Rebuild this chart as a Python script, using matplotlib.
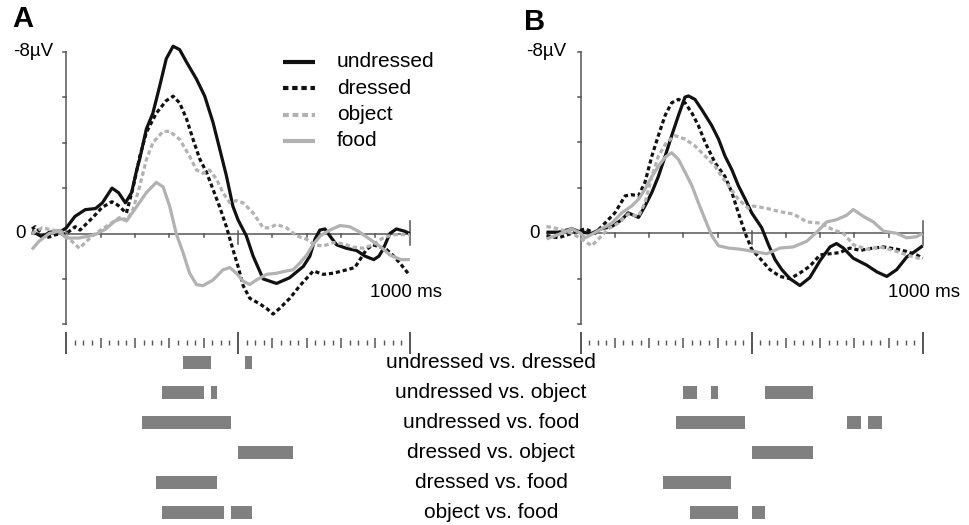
import matplotlib
matplotlib.use('Agg')
import matplotlib.pyplot as plt
from matplotlib.lines import Line2D

plt.rcParams['font.family'] = ['Liberation Sans', 'DejaVu Sans']

# ---------------- data ----------------
series_names = ["undressed", "dressed", "object", "food"]

# Panel A (time in ms, amplitude in microvolts; negative plotted up)
a_undressed_t = [-100, -70, -50, -30, -15, 0, 25, 55, 85, 105, 133, 152, 172, 190, 205, 214, 233, 252, 272, 291, 311, 330, 350, 379, 403, 427, 447, 466, 485, 500, 524, 544, 573, 612, 650, 690, 709, 724, 738, 753, 767, 787, 815, 845, 870, 895, 910, 922, 942, 961, 985, 1000]
a_undressed_v = [-0.1, 0.15, -0.05, -0.1, -0.1, -0.25, -0.75, -1.05, -1.1, -1.35, -2.0, -1.8, -1.35, -1.8, -2.8, -3.3, -4.6, -5.3, -6.5, -7.7, -8.25, -8.1, -7.55, -6.8, -6.05, -4.9, -3.7, -2.55, -1.2, -0.6, 0.1, 1.0, 2.0, 2.2, 1.95, 1.45, 1.0, 0.25, -0.15, -0.2, 0.1, 0.5, 0.65, 0.75, 1.0, 1.15, 1.0, 0.7, 0.0, -0.2, -0.1, 0.0]

a_dressed_t = [-100, -90, -60, -30, 0, 26, 40, 60, 80, 104, 133, 150, 175, 194, 214, 233, 262, 291, 311, 330, 350, 369, 388, 408, 427, 447, 466, 485, 500, 515, 534, 563, 583, 602, 621, 651, 680, 719, 748, 777, 816, 840, 855, 874, 893, 915, 932, 950, 971, 1000]
a_dressed_v = [-0.2, -0.3, 0.2, 0.05, 0.0, -0.3, -0.15, -0.45, -0.75, -1.15, -1.4, -1.25, -0.9, -2.0, -3.4, -4.45, -5.3, -5.85, -6.05, -5.75, -5.05, -4.15, -3.3, -2.7, -1.95, -1.15, -0.3, 0.7, 1.45, 2.3, 2.85, 3.1, 3.3, 3.55, 3.3, 2.85, 2.3, 1.65, 1.8, 1.75, 1.6, 1.5, 1.15, 0.7, 0.5, 0.6, 0.7, 0.95, 1.3, 1.85]

a_object_t = [-100, -70, -40, -15, 0, 20, 38, 55, 80, 100, 125, 155, 178, 194, 214, 233, 252, 282, 301, 330, 359, 379, 398, 417, 437, 456, 476, 495, 515, 544, 573, 592, 612, 641, 670, 699, 723, 748, 777, 806, 835, 864, 893, 922, 951, 1000]
a_object_v = [0.0, -0.25, -0.15, -0.1, 0.1, 0.4, 0.65, 0.4, 0.05, -0.15, -0.4, -0.7, -0.6, -1.05, -2.1, -3.25, -4.0, -4.5, -4.5, -4.15, -3.4, -2.8, -2.65, -2.8, -2.4, -1.8, -1.35, -1.45, -1.35, -0.9, -0.25, -0.25, -0.4, -0.25, 0.1, 0.25, 0.5, 0.55, 0.4, 0.45, 0.6, 0.65, 0.5, 0.2, 0.05, 0.05]

a_food_t = [-100, -80, -50, -22, 0, 36, 65, 84, 113, 142, 160, 175, 201, 233, 262, 282, 301, 320, 340, 359, 379, 398, 427, 456, 476, 495, 515, 534, 553, 583, 612, 641, 660, 680, 700, 720, 740, 767, 797, 825, 850, 893, 920, 942, 975, 1000]
a_food_v = [0.7, 0.35, 0.0, -0.1, 0.2, 0.2, 0.12, 0.05, -0.18, -0.55, -0.65, -0.55, -1.1, -1.8, -2.25, -2.05, -1.2, 0.0, 0.85, 1.75, 2.25, 2.3, 2.05, 1.6, 1.5, 1.75, 2.1, 2.25, 2.05, 1.8, 1.75, 1.65, 1.6, 1.3, 0.95, 0.45, 0.1, -0.15, -0.35, -0.3, -0.1, 0.35, 0.65, 0.95, 1.15, 1.15]

# Panel B
b_undressed_t = [-100, -65, -26, 0, 32, 61, 91, 120, 139, 169, 188, 208, 227, 247, 266, 286, 305, 315, 334, 354, 383, 403, 422, 442, 461, 481, 500, 529, 549, 568, 588, 612, 641, 670, 700, 729, 748, 768, 797, 836, 866, 895, 924, 953, 982, 1000]
b_undressed_v = [-0.05, -0.05, -0.2, -0.05, 0.0, -0.2, -0.3, -0.6, -0.9, -0.7, -1.2, -1.8, -2.5, -3.4, -4.3, -5.2, -6.0, -6.05, -5.9, -5.45, -4.75, -4.15, -3.4, -2.8, -2.1, -1.5, -0.9, -0.25, 0.5, 1.15, 1.6, 2.0, 2.3, 1.95, 1.2, 0.6, 0.45, 0.65, 1.1, 1.4, 1.7, 1.9, 1.6, 1.05, 0.75, 0.55]

b_dressed_t = [-100, -65, -26, 13, 42, 71, 100, 130, 149, 169, 188, 208, 227, 247, 266, 286, 305, 325, 344, 364, 393, 422, 442, 461, 481, 500, 524, 553, 583, 612, 641, 670, 700, 729, 758, 787, 817, 856, 885, 924, 953, 982, 1000]
b_dressed_v = [0.1, 0.2, 0.0, -0.2, 0.0, -0.45, -0.9, -1.65, -1.7, -1.65, -2.25, -3.4, -4.3, -5.2, -5.75, -5.9, -5.75, -5.3, -4.75, -4.0, -3.1, -2.5, -1.8, -0.9, 0.0, 0.7, 1.1, 1.6, 1.9, 2.0, 1.75, 1.45, 0.95, 0.9, 0.85, 0.65, 0.75, 0.65, 0.6, 0.7, 0.8, 0.95, 1.1]

b_object_t = [-100, -65, -26, 3, 32, 52, 81, 110, 139, 169, 188, 208, 227, 251, 276, 305, 334, 364, 393, 412, 432, 461, 490, 505, 544, 583, 622, 661, 700, 739, 768, 797, 836, 875, 914, 953, 1000]
b_object_v = [-0.3, -0.2, 0.0, 0.25, 0.55, 0.25, -0.2, -0.45, -0.85, -0.75, -1.35, -2.5, -3.4, -4.0, -4.3, -4.15, -3.85, -3.4, -2.95, -2.5, -2.1, -1.5, -1.1, -1.2, -1.1, -0.95, -0.85, -0.5, -0.45, -0.15, 0.0, 0.5, 0.7, 0.6, 0.75, 0.95, 1.15]

b_food_t = [-100, -65, -26, 0, 13, 32, 61, 91, 120, 149, 169, 188, 208, 227, 247, 266, 286, 305, 325, 344, 364, 383, 403, 432, 466, 505, 544, 583, 622, 661, 690, 719, 748, 778, 797, 826, 856, 885, 924, 953, 982, 1000]
b_food_v = [0.25, 0.05, -0.2, 0.0, 0.2, 0.05, -0.2, -0.45, -0.9, -1.2, -1.5, -1.95, -2.5, -2.95, -3.35, -3.55, -3.25, -2.7, -2.1, -1.35, -0.6, 0.1, 0.55, 0.65, 0.7, 0.8, 0.9, 0.65, 0.6, 0.35, -0.05, -0.5, -0.6, -0.8, -1.05, -0.75, -0.5, -0.1, 0.0, 0.2, 0.15, 0.0]

# Significant intervals (ms) per contrast
contrasts = ["undressed vs. dressed", "undressed vs. object", "undressed vs. food",
             "dressed vs. object", "dressed vs. food", "object vs. food"]
sig_a = [[(340, 420), (520, 540)], [(280, 400), (420, 440)], [(220, 480)],
         [(500, 660)], [(260, 440)], [(280, 460), (480, 540)]]
sig_b = [[], [(300, 340), (380, 400), (540, 680)], [(280, 480), (780, 820), (840, 880)],
         [(500, 680)], [(240, 440)], [(320, 460), (500, 540)]]

y_ticks = [-8, -6, -4, -2, 0, 2, 4]
x_ticks = [100, 200, 300, 400, 500, 600, 700, 800, 900, 1000]

# ---------------- styles ----------------
BLACK = '#111111'
GRAY = '#b2b2b2'
AXC = '#555555'
styles = {
    "undressed": dict(color=BLACK, ls='-'),
    "dressed": dict(color=BLACK, ls=(0, (1.3, 0.9))),
    "object": dict(color=GRAY, ls=(0, (1.4, 0.9))),
    "food": dict(color=GRAY, ls='-'),
}

W, H = 970, 525
fig = plt.figure(figsize=(W / 100, H / 100), dpi=100)

XL = (-110, 1010)
YL = (4.3, -8.6)


def wave_rect(x0, pxms, y0, pxuv):
    left = x0 + pxms * XL[0]
    right = x0 + pxms * XL[1]
    top = y0 + pxuv * YL[1]
    bottom = y0 + pxuv * YL[0]
    return [left / W, 1 - bottom / H, (right - left) / W, (bottom - top) / H]


def draw_panel(x0, pxms, y0, data, sig, letter, letter_xy, unit_label_dx, ms_label_x):
    pxuv = 22.7
    ax = fig.add_axes(wave_rect(x0, pxms, y0, pxuv))
    ax.set_xlim(*XL)
    ax.set_ylim(*YL)
    ax.axis('off')
    # axes
    ax.plot([0, 0], [y_ticks[0], y_ticks[-1]], color=AXC, lw=1.1, clip_on=False)
    for v in y_ticks:
        ax.plot([-3.2 / pxms, 0], [v, v], color=AXC, lw=1.1, clip_on=False)
    ax.plot([-100, 1000], [0, 0], color=AXC, lw=1.1, clip_on=False)
    for t in x_ticks:
        if t == 1000:
            lo, hi = -0.55, 0.5
        elif t == 500:
            lo, hi = -0.1, 0.45
        else:
            lo, hi = 0.0, 0.15
        ax.plot([t, t], [lo, hi], color=AXC, lw=1.1, clip_on=False)
    # waves
    for name in series_names:
        t, v = data[name]
        st = styles[name]
        ax.plot(t, v, color=st['color'], ls=st['ls'], lw=2.3, clip_on=False,
                solid_joinstyle='round', solid_capstyle='butt', dash_capstyle='butt')
    ax.text(-unit_label_dx / pxms, -8, '-8µV', ha='right', va='center', fontsize=13.5)
    ax.text(-41 / pxms, 0, '0', ha='right', va='center', fontsize=13.5)
    ax.text(ms_label_x, 2.6, '1000 ms', ha='left', va='center', fontsize=13.5)
    fig.text(letter_xy[0] / W, 1 - letter_xy[1] / H, letter, fontsize=21, fontweight='bold',
             ha='left', va='center')

    # ruler + significance bars
    row0, step = 362.7, 29.9
    top_px, bot_px = 326, 525
    left = x0 + pxms * XL[0]
    right = x0 + pxms * XL[1]
    ax2 = fig.add_axes([left / W, 1 - bot_px / H, (right - left) / W, (bot_px - top_px) / H])
    ax2.set_xlim(*XL)
    ax2.set_ylim((bot_px - row0) / step, (top_px - row0) / step)
    ax2.axis('off')
    rc = (342.5 - row0) / step
    for t in range(0, 1001, 25):
        if t % 500 == 0:
            half, lw = 11.0, 1.4
        elif t % 100 == 0:
            half, lw = 5.0, 1.1
        else:
            half, lw = 2.3, 1.0
        ax2.plot([t, t], [rc - half / step, rc + half / step], color=AXC, lw=lw,
                 solid_capstyle='butt')
    for i, ivs in enumerate(sig):
        for s, e in ivs:
            ax2.barh(i, e - s, left=s, height=12.7 / step, color='#808080', edgecolor='none')


data_a = {"undressed": (a_undressed_t, a_undressed_v), "dressed": (a_dressed_t, a_dressed_v),
          "object": (a_object_t, a_object_v), "food": (a_food_t, a_food_v)}
data_b = {"undressed": (b_undressed_t, b_undressed_v), "dressed": (b_dressed_t, b_dressed_v),
          "object": (b_object_t, b_object_v), "food": (b_food_t, b_food_v)}

draw_panel(66.3, 0.3435, 233.5, data_a, sig_a, 'A', (12, 19), 13, 884)
draw_panel(580.7, 0.342, 233.3, data_b, sig_b, 'B', (524, 22), 14, 900)

# contrast labels
for i, lab in enumerate(contrasts):
    fig.text(491 / W, 1 - (362.7 + 29.9 * i) / H, lab, ha='center', va='center', fontsize=15)

# legend (panel A)
leg_y = [61.7, 88.3, 115.0, 140.7]
for name, yy in zip(series_names, leg_y):
    st = styles[name]
    fig.add_artist(Line2D([283 / W, 315 / W], [1 - yy / H, 1 - yy / H], color=st['color'],
                          ls=st['ls'], lw=3.0, solid_capstyle='butt', dash_capstyle='butt'))
    fig.text(337 / W, 1 - yy / H, name, ha='left', va='center', fontsize=15)

fig.savefig('out.png', dpi=100)
